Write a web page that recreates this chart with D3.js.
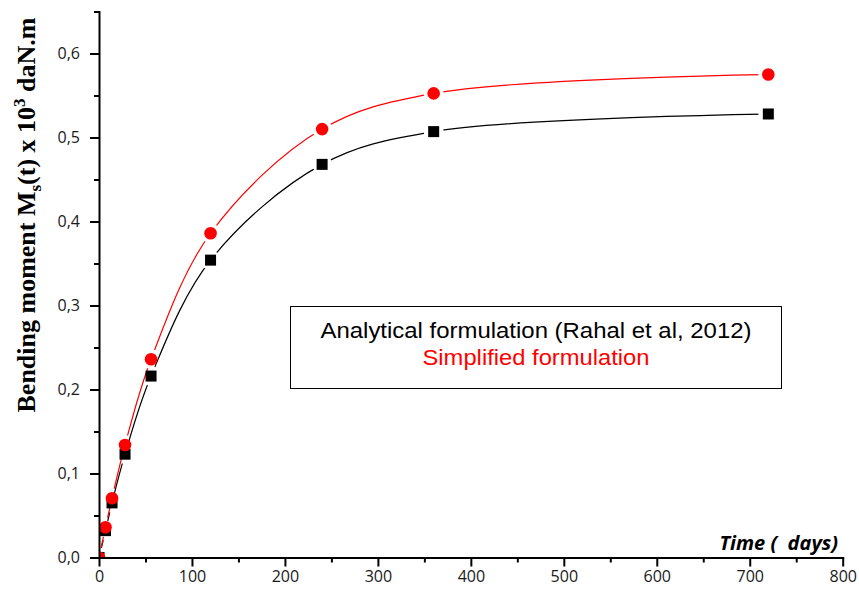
<!DOCTYPE html>
<html>
<head>
<meta charset="utf-8">
<script src="https://cdn.jsdelivr.net/npm/d3@7"></script>
<style>
  body { margin: 0; background: #fff; }
  svg { display: block; }
  .tick text { font-family: "Open Sans", "Noto Sans", sans-serif; font-size: 16px; fill: #1a1a1a; }
</style>
</head>
<body>
<svg id="chart" width="859" height="595"></svg>
<script>
// ---- data ----
const times = [0, 7, 14, 28, 56, 120, 240, 360, 720];
const analytical = [0, 0.032, 0.065, 0.123, 0.216, 0.354, 0.468, 0.507, 0.528];
const simplified = [0, 0.036, 0.0705, 0.134, 0.236, 0.386, 0.510, 0.5525, 0.575];
const xMajorTicks = [0, 100, 200, 300, 400, 500, 600, 700, 800];
const xMinorTicks = [50, 150, 250, 350, 450, 550, 650, 750];
const yMajorTicks = [0, 0.1, 0.2, 0.3, 0.4, 0.5, 0.6];
const yMinorTicks = [0.05, 0.15, 0.25, 0.35, 0.45, 0.55, 0.65];
const legendLabels = ["Analytical formulation (Rahal et al, 2012)", "Simplified formulation"];

const svg = d3.select("#chart");
const x = d3.scaleLinear().domain([0, 800]).range([99, 842.7]);
const y = d3.scaleLinear().domain([0, 0.65]).range([557.5, 11.5]);

const defs = svg.append("defs");
defs.append("clipPath").attr("id", "plotClip")
  .append("rect").attr("x", x(0)).attr("y", y(0.65) - 10)
  .attr("width", x(800) - x(0) + 20).attr("height", y(0) - y(0.65) + 10);

const series = [
  { name: "analytical", values: analytical, color: "#000000", shape: "square" },
  { name: "simplified", values: simplified, color: "#ff0000", shape: "circle" }
];

const line = d3.line()
  .x(d => x(d[0]))
  .y(d => y(d[1]))
  .curve(d3.curveCatmullRom.alpha(0.5));

// masks to create gaps in lines around own markers
series.forEach(s => {
  const m = defs.append("mask").attr("id", "mask-" + s.name)
    .attr("maskUnits", "userSpaceOnUse")
    .attr("x", 0).attr("y", 0).attr("width", 859).attr("height", 595);
  m.append("rect").attr("x", 0).attr("y", 0).attr("width", 859).attr("height", 595).attr("fill", "#fff");
  m.selectAll("circle").data(times.map((t, i) => [t, s.values[i]]))
    .join("circle")
    .attr("cx", d => x(d[0])).attr("cy", d => y(d[1])).attr("r", 10).attr("fill", "#000");
});

const plot = svg.append("g").attr("clip-path", "url(#plotClip)");

series.forEach(s => {
  const pts = times.map((t, i) => [t, s.values[i]]);
  plot.append("path")
    .attr("d", line(pts))
    .attr("fill", "none")
    .attr("stroke", s.color)
    .attr("stroke-width", 1.2)
    .attr("mask", "url(#mask-" + s.name + ")");
});

series.forEach(s => {
  const pts = times.map((t, i) => [t, s.values[i]]);
  if (s.shape === "square") {
    plot.selectAll(null).data(pts).join("rect")
      .attr("x", d => x(d[0]) - 5.5).attr("y", d => y(d[1]) - 5.5)
      .attr("width", 11).attr("height", 11)
      .attr("fill", s.color);
  } else {
    plot.selectAll(null).data(pts).join("circle")
      .attr("cx", d => x(d[0])).attr("cy", d => y(d[1])).attr("r", 6.3)
      .attr("fill", s.color);
  }
});

// ---- axes ----
const fmtY = d => d.toFixed(1).replace(".", ",");

svg.append("g").attr("transform", `translate(0,${y(0)})`)
  .call(d3.axisBottom(x).tickValues(xMajorTicks).tickSize(9).tickSizeOuter(0).tickPadding(4).tickFormat(d3.format("d")));
svg.append("g").attr("transform", `translate(0,${y(0)})`)
  .call(d3.axisBottom(x).tickValues(xMinorTicks).tickSize(5).tickSizeOuter(0).tickFormat(""))
  .call(g => g.select(".domain").remove());

svg.append("g").attr("transform", `translate(${x(0)},0)`)
  .call(d3.axisLeft(y).tickValues(yMajorTicks).tickSize(9).tickSizeOuter(0).tickPadding(10).tickFormat(fmtY));
svg.append("g").attr("transform", `translate(${x(0)},0)`)
  .call(d3.axisLeft(y).tickValues(yMinorTicks).tickSize(5).tickSizeOuter(0).tickFormat(""))
  .call(g => g.select(".domain").remove());

svg.selectAll(".domain, .tick line").attr("stroke", "#000").attr("stroke-width", 2);
svg.selectAll(".domain").attr("stroke-linecap", "square");

// ---- axis titles ----
svg.append("text")
  .attr("x", 838).attr("y", 550)
  .attr("text-anchor", "end")
  .style("font-family", "'Open Sans', 'Noto Sans', sans-serif")
  .style("font-size", "20px").style("font-weight", "bold").style("font-style", "italic")
  .style("white-space", "pre")
  .text("Time (  days)");

const yTitle = svg.append("text")
  .attr("transform", "translate(35,215) rotate(-90)")
  .attr("text-anchor", "middle")
  .style("font-family", "'Liberation Serif', 'Times New Roman', serif")
  .style("font-size", "26px").style("font-weight", "bold")
  .style("fill", "#000");
yTitle.append("tspan").text("Bending moment M");
yTitle.append("tspan").attr("dy", 6).style("font-size", "17px").text("s");
yTitle.append("tspan").attr("dy", -6).text("(t) x 10");
yTitle.append("tspan").attr("dy", -10).style("font-size", "17px").text("3");
yTitle.append("tspan").attr("dy", 10).text(" daN.m");

// ---- legend ----
svg.append("rect")
  .attr("x", 290.5).attr("y", 306.5).attr("width", 491).attr("height", 82)
  .attr("fill", "#fff").attr("stroke", "#000").attr("stroke-width", 1);
svg.append("text").attr("x", 536).attr("y", 338).attr("text-anchor", "middle")
  .attr("textLength", 431).attr("lengthAdjust", "spacingAndGlyphs")
  .style("font-family", "'Liberation Sans', Arial, sans-serif").style("font-size", "22px")
  .style("fill", "#000").text(legendLabels[0]);
svg.append("text").attr("x", 536).attr("y", 365).attr("text-anchor", "middle")
  .attr("textLength", 227).attr("lengthAdjust", "spacingAndGlyphs")
  .style("font-family", "'Liberation Sans', Arial, sans-serif").style("font-size", "22px")
  .style("fill", "#ff0000").text(legendLabels[1]);
</script>
</body>
</html>
